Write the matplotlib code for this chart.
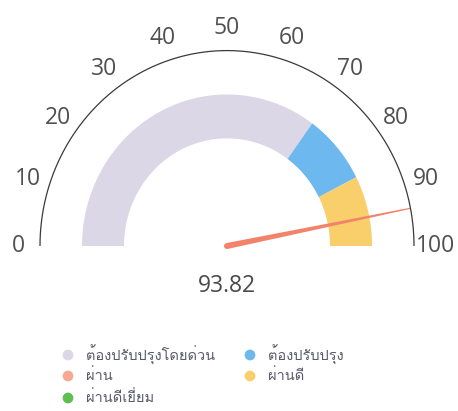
import numpy as np
import matplotlib
matplotlib.use("Agg")
import matplotlib.pyplot as plt
from matplotlib import font_manager
from matplotlib.ft2font import FT2Font
from matplotlib.patches import Polygon

# ---- data ----
tick_values = [0, 10, 20, 30, 40, 50, 60, 70, 80, 90, 100]
band_names = ["ต้องปรับปรุงโดยด่วน", "ต้องปรับปรุง", "ผ่าน", "ผ่านดี", "ผ่านดีเยี่ยม"]
band_starts = [0, 70, 85, 85, 100]
band_ends = [70, 85, 85, 100, 100]
band_colors = ["#dcd7e6", "#6db8ef", "#f7a88e", "#f8cf6b", "#5dbf4e"]
value = 93.82
needle_color = "#f2836a"

# ---- find a Thai-capable font ----
thai_font = None
for f in font_manager.fontManager.ttflist:
    try:
        ft = FT2Font(f.fname)
        if 0x0E01 in ft.get_charmap():
            thai_font = f.name
            break
    except Exception:
        pass
legend_family = ([thai_font] if thai_font else []) + ["Open Sans", "DejaVu Sans"]

W, H = 458, 411
fig = plt.figure(figsize=(W / 100, H / 100), dpi=100)
ax = fig.add_axes([0, 0, 1, 1])
ax.set_xlim(0, W)
ax.set_ylim(H, 0)
ax.axis("off")

cx, cy = 227, 246
sy = 1.045
r_arc = 187
r_out, r_in = 145, 103
r_lab = 209


def pt(v, r):
    th = np.pi * (1 - v / 100.0)
    return cx + r * np.cos(th), cy - r * sy * np.sin(th)


# outer arc
vs = np.linspace(0, 100, 300)
xs, ys = pt(vs, r_arc)
ax.plot(xs, ys, color="#3a3a3a", lw=0.9, solid_capstyle="butt")

# bands
for s, e, c in zip(band_starts, band_ends, band_colors):
    if e <= s:
        continue
    v = np.linspace(s, e, 100)
    xo, yo = pt(v, r_out)
    xi, yi = pt(v[::-1], r_in)
    poly = np.column_stack([np.concatenate([xo, xi]), np.concatenate([yo, yi])])
    ax.add_patch(Polygon(poly, closed=True, facecolor=c, edgecolor="none"))

# tick labels
for t in tick_values:
    x, y = pt(t, r_lab)
    ax.text(x, y, str(t), ha="center", va="center", fontsize=16.5,
            color="#505050", family="Open Sans")

# needle (tapered)
tip = np.array(pt(value, r_arc))
base = np.array([cx, cy])
d = tip - base
L = np.hypot(*d)
u = d / L
n = np.array([-u[1], u[0]])
w0, w1 = 3.0, 0.6
cap_pts = [base + w0 * (np.cos(a) * n - np.sin(a) * u) for a in np.linspace(0, np.pi, 12)]
needle = np.array([tip + w1 * n] + cap_pts + [tip - w1 * n])
ax.add_patch(Polygon(needle, closed=True, facecolor=needle_color, edgecolor="none"))

# value text
ax.text(cx, 286, f"{value:.2f}", ha="center", va="center", fontsize=16.5,
        color="#4a4a4a", family="Open Sans")

# legend (row-major, 2 columns)
col_x = [68, 250]
row_y = [355, 376, 398]
for i, (name, c) in enumerate(zip(band_names, band_colors)):
    r, col = divmod(i, 2)
    x, y = col_x[col], row_y[r]
    ax.scatter([x], [y], s=60, color=c, edgecolors="none")
    ax.text(x + 18, y, name, ha="left", va="center", fontsize=10.5,
            color="#5a5a6a", family=legend_family)

fig.savefig("out.png", dpi=100)
